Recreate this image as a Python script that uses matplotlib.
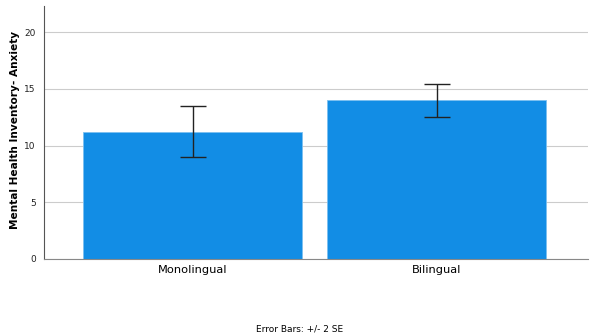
import matplotlib.pyplot as plt
import numpy as np

groups = ['Monolingual', 'Bilingual']
means = [11.22, 14.0]
err = [2.26, 1.45]  # +/- 2 SE

fig = plt.figure(figsize=(5.9, 3.35), dpi=100)
ax = fig.add_axes([0.0746, 0.227, 0.922, 0.755])

x = np.arange(len(groups))
ax.bar(x, means, width=0.898, color='#128de5', edgecolor='#7cc0f0', linewidth=0.6, zorder=2)
ax.errorbar(x, means, yerr=err, fmt='none', ecolor='#222222', elinewidth=1.0,
            capsize=9.4, capthick=1.0, zorder=3)

ax.set_xlim(-0.61, 1.62)
ax.set_ylim(0, 22.3)
ax.set_yticks([0, 5, 10, 15, 20])
ax.set_xticks(x)
ax.set_xticklabels(groups, fontsize=8.2)
ax.tick_params(axis='y', length=0, labelsize=6.5, pad=6, colors='#222222')
ax.tick_params(axis='x', length=0, pad=4)
ax.yaxis.grid(True, color='#cccccc', linewidth=0.8, zorder=0)
ax.set_axisbelow(True)

for s in ['top', 'right']:
    ax.spines[s].set_visible(False)
ax.spines['left'].set_color('#555555')
ax.spines['bottom'].set_color('#888888')
ax.spines['left'].set_linewidth(0.8)
ax.spines['bottom'].set_linewidth(0.8)

ax.set_ylabel('Mental Health Inventory- Anxiety', fontsize=7.6, fontweight='bold')
ax.yaxis.set_label_coords(-0.045, 0.51)

fig.text(0.508, 0.005, 'Error Bars: +/- 2 SE', fontsize=6.5, ha='center', va='bottom')

fig.savefig('out.png', dpi=100)
